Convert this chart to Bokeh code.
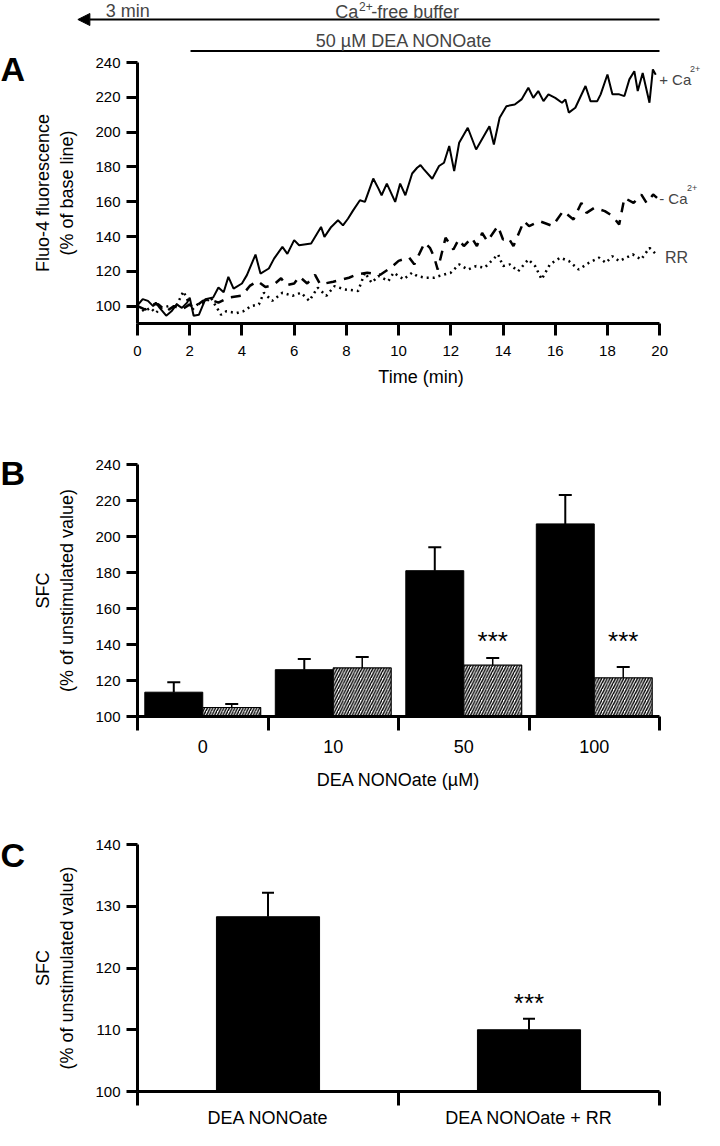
import numpy as np
from bokeh.plotting import figure
from bokeh.models import (Range1d, FixedTicker, Label, Arrow, NormalHead, TeeHead,
                          Whisker, ColumnDataSource)
from bokeh.layouts import column, row
from bokeh.embed import file_html
from bokeh.resources import INLINE
from bokeh.core.properties import value

# ---------------- Panel A data (time in min, % of base line) ----------------
t_plus = [0.0, 0.2, 0.4, 0.6, 0.7, 0.85, 1.1, 1.3, 1.5, 1.7, 1.9, 2.0, 2.15, 2.35, 2.6, 2.9,
          3.1, 3.3, 3.48, 3.68, 4.0, 4.19, 4.52, 4.71, 5.03, 5.23, 5.55, 5.74, 6.0, 6.19,
          6.65, 7.03, 7.16, 7.42, 7.68, 7.87, 8.06, 8.26, 8.52, 8.71, 9.03, 9.23, 9.35,
          9.55, 9.87, 10.06, 10.26, 10.52, 10.71, 10.84, 10.97, 11.29, 11.55, 11.74, 11.94,
          12.13, 12.32, 12.65, 12.97, 13.48, 13.65, 13.87, 14.13, 14.45, 14.71, 14.97,
          15.16, 15.35, 15.55, 15.74, 16.0, 16.26, 16.39, 16.52, 16.77, 17.16, 17.35,
          17.61, 17.74, 18.0, 18.19, 18.45, 18.65, 18.84, 19.03, 19.16, 19.35, 19.61,
          19.74, 19.85]
v_plus = [100.5, 104, 103, 100, 102, 99, 94.5, 97, 101, 99, 102, 104.8, 94.5, 95, 104, 105,
          110.7, 108, 116.8, 110, 113, 117.8, 129.6, 118.7, 121.6, 127.3, 134, 130, 137.9,
          135, 136, 145.5, 139.8, 145.5, 149.3, 146.4, 150.2, 155, 160.8, 159.9, 173.3,
          167.5, 163.7, 170.4, 159.9, 170.4, 163.7, 176.2, 179.5, 181, 178.6, 173.2, 180.5,
          182.4, 192, 177.6, 193.9, 202.5, 190, 203.4, 192.9, 208.2, 214.9, 215.9, 218.8,
          225.5, 219.7, 223.6, 217.8, 221.7, 219.7, 216.9, 218.8, 211.2, 214, 226.5, 217.8,
          217.8, 221.7, 233.1, 221.7, 221.7, 220.7, 230.3, 235, 223.6, 234, 216.9, 236, 233]

t_minus = [0.0, 0.3, 0.6, 0.8, 1.1, 1.4, 1.7, 2.0, 2.15, 2.5, 2.75, 3.1, 3.5, 4.0, 4.3, 4.6,
           4.9, 5.2, 5.5, 5.7, 6.0, 6.2, 6.5, 6.8, 7.0, 7.5, 8.1, 8.4, 8.8, 9.3, 9.7, 10.0,
           10.4, 10.6, 11.0, 11.2, 11.35, 11.5, 11.8, 12.1, 12.3, 12.5, 12.8, 13.0, 13.2,
           13.4, 13.8, 14.0, 14.2, 14.4, 14.8, 15.0, 15.4, 15.9, 16.3, 16.7, 17.0, 17.2,
           17.5, 17.9, 18.2, 18.45, 18.65, 19.0, 19.3, 19.5, 19.75, 19.9]
v_minus = [100, 98, 101, 101, 97, 100, 98, 101, 99, 103, 104, 102, 105, 106, 111.6, 114.4,
           111, 112, 116, 112, 113, 117, 113, 118, 112.5, 114, 116.3, 118.2, 119.2, 118, 122,
           126, 128, 124, 136.4, 133.5, 128.7, 121, 139.3, 132.5, 138.3, 134.5, 139.3, 134.5,
           142, 137.3, 146, 138.3, 139.3, 134.5, 148.8, 146, 148.8, 146, 154.6, 149.8, 159.3,
           153.6, 156.5, 154.6, 151.7, 146.9, 162.2, 159.3, 164.1, 159.3, 164.1, 162.2]

t_rr = [0.0, 0.26, 0.5, 0.7, 0.9, 1.2, 1.45, 1.76, 1.9, 2.1, 2.3, 2.6, 2.8, 3.0, 3.2, 3.4,
        3.8, 4.05, 4.35, 4.65, 4.84, 5.16, 5.55, 5.94, 6.26, 6.58, 6.9, 7.23, 7.55, 7.94,
        8.45, 8.71, 8.97, 9.23, 9.61, 9.81, 10.19, 10.52, 10.71, 11.03, 11.35, 11.55, 12.0,
        12.32, 12.65, 12.97, 13.29, 13.81, 14.0, 14.26, 14.58, 14.97, 15.23, 15.48, 15.8,
        16.19, 16.52, 16.9, 17.29, 17.68, 17.94, 18.19, 18.45, 18.97, 19.29, 19.61, 19.87]
v_rr = [100, 97, 99, 96, 99, 100, 99, 108.5, 104, 98, 101, 102, 105, 100, 95, 97, 96, 97,
        100, 101, 107.7, 103, 107.7, 105.9, 107.7, 103, 110.6, 105.9, 111.5, 109.6, 108.7,
        119.2, 113.4, 117.3, 114.4, 119.2, 115.4, 119.2, 117.3, 116.3, 116.3, 117.3, 119.2,
        124, 121, 123, 122, 129.7, 123, 124, 120, 126.8, 123, 115.4, 124, 127.8, 125.9, 121,
        124.9, 127.8, 124.9, 128.7, 125.9, 129.7, 126.8, 133.5, 129.7]

a_ticks_x = [0, 2, 4, 6, 8, 10, 12, 14, 16, 18, 20]
a_ticks_y = [100, 120, 140, 160, 180, 200, 220, 240]

# ---------------- Panel B data ----------------
b_doses = ["0", "10", "50", "100"]
b_ctrl = [113.5, 126.0, 181.0, 207.0]
b_ctrl_err = [5.5, 6.0, 13.0, 16.0]
b_rr = [105.0, 127.0, 128.5, 121.5]
b_rr_err = [2.0, 6.0, 4.0, 6.0]
b_sig = ["", "", "***", "***"]
b_ticks_y = [100, 120, 140, 160, 180, 200, 220, 240]

# ---------------- Panel C data ----------------
c_groups = ["DEA NONOate", "DEA NONOate + RR"]
c_vals = [128.3, 110.0]
c_err = [3.9, 1.8]
c_sig = ["", "***"]
c_ticks_y = [100, 110, 120, 130, 140]

# ---------------- styling / layout ----------------
FONT = "Liberation Sans"
LW = 30                               # width of the panel-letter strip
W = 704 - LW                          # width of each panel
LB, RB = 105, 45                      # frame spans page x 143..667
PXM = (W - LB - RB) / 20.0            # px per minute in panel A
TOP_H = 52


def base_fig(height, x_range, y_range, **kw):
    p = figure(width=kw.pop("width", W), height=height, x_range=x_range, y_range=y_range,
               toolbar_location=None, output_backend="svg", **kw)
    p.frame_align = False
    p.grid.visible = False
    p.outline_line_color = None
    p.background_fill_color = "white"
    p.border_fill_color = "white"
    return p


def style_axes(p, xlabel, ylabel):
    for ax in p.axis:
        ax.axis_line_width = 3
        ax.axis_line_color = "black"
        ax.major_tick_line_width = 3
        ax.major_tick_line_color = "black"
        ax.minor_tick_line_color = None
        ax.major_tick_in = 0
        ax.major_label_text_font = FONT
        ax.major_label_text_font_size = "15px"
        ax.major_label_text_color = "black"
        ax.axis_label_text_font = FONT
        ax.axis_label_text_font_size = "18px"
        ax.axis_label_text_font_style = "normal"
        ax.axis_label_text_color = "black"
    p.xaxis.axis_label = xlabel
    p.yaxis.axis_label = ylabel
    p.yaxis.major_tick_out = 11
    p.yaxis.major_label_standoff = 6
    p.yaxis.axis_label_standoff = 15


def lab(p, x, y, text, size="18px", align="left", **kw):
    p.add_layout(Label(x=x, y=y, text=text, text_font=FONT, text_font_size=size,
                       text_align=align, text_baseline="middle", **kw))


def bottom_cat_axis(p, centers, names, standoff):
    p.xaxis.ticker = FixedTicker(ticks=list(centers), minor_ticks=list(range(len(names) + 1)))
    p.xaxis.major_label_overrides = {float(g): d for g, d in zip(centers, names)}
    p.xaxis.major_label_text_font_size = "18px"
    p.xaxis.major_tick_out = 0
    p.xaxis.major_tick_line_color = None
    p.xaxis.minor_tick_line_color = "black"
    p.xaxis.minor_tick_line_width = 3
    p.xaxis.minor_tick_out = 14
    p.xaxis.minor_tick_in = 0
    p.xaxis.major_label_standoff = standoff


# ---- panel letters strip (page pixel rows) ----
letters = base_fig(1130, Range1d(0, LW), Range1d(1130, 0), width=LW, min_border=0,
                   x_axis_location=None, y_axis_location=None)
letters.text(x=[0, 0, 0], y=[68, 472, 854], text=["A", "B", "C"], text_font=value(FONT),
             text_font_size="34px", text_font_style="bold", text_baseline="middle",
             text_align="left")

# ---- top annotation strip (x in minutes, y in px from strip top) ----
top = base_fig(TOP_H, Range1d(-LB / PXM, (W - LB) / PXM), Range1d(TOP_H, 0), min_border=0,
               x_axis_location=None, y_axis_location=None)
top.add_layout(Arrow(end=NormalHead(size=12, fill_color="black", line_color="black"),
                     x_start=20, y_start=19, x_end=-2.2, y_end=19, line_width=2))
lab(top, -0.3, 10, "3 min", align="center")
lab(top, 8.5, 11, "Ca", align="right")
lab(top, 8.53, 6, "2+", size="12px")
lab(top, 8.5 + 13 / PXM, 11, "-free buffer")
lab(top, 10.25, 40, "50 \u00b5M DEA NONOate", align="center")
top.segment(x0=[2.1], y0=[TOP_H - 1.5], x1=[20], y1=[TOP_H - 1.5], line_width=2,
            line_color="black")

# ---- Panel A ----
pa = base_fig(340, Range1d(0, (W - LB) / PXM), Range1d(90, 240),
              min_border_left=LB, min_border_right=0, min_border_top=10, min_border_bottom=69)
pa.line(t_plus, v_plus, line_color="black", line_width=2)
pa.line(t_minus, v_minus, line_color="black", line_width=2.5, line_dash="10 8")
pa.line(t_rr, v_rr, line_color="black", line_width=2.5, line_dash="2 4")
style_axes(pa, "Time (min)", "Fluo-4 fluorescence\n(% of base line)")
pa.xaxis.bounds = (0, 20)
pa.xaxis.ticker = FixedTicker(ticks=a_ticks_x)
pa.yaxis.ticker = FixedTicker(ticks=a_ticks_y)
pa.xaxis.major_tick_out = 12
pa.xaxis.major_label_standoff = 10
pa.xaxis.axis_label_standoff = 8
lab(pa, 19.98, 230.5, "+ Ca", size="15px")
lab(pa, 19.98 + 31 / PXM, 236.5, "2+", size="9px")
lab(pa, 19.98, 162, "- Ca", size="15px")
lab(pa, 19.98 + 28 / PXM, 168, "2+", size="9px")
lab(pa, 20.2, 128, "RR", size="16px")

# ---- Panel B ----
grp = np.arange(len(b_doses)) + 0.5
bw = 0.444
src_b = ColumnDataSource(dict(
    xc=grp - 0.222, xr=grp + 0.222,
    ctrl=b_ctrl, ctrl_up=[v + e for v, e in zip(b_ctrl, b_ctrl_err)],
    rr=b_rr, rr_up=[v + e for v, e in zip(b_rr, b_rr_err)],
    rr_lo=[v - e for v, e in zip(b_rr, b_rr_err)], sig=b_sig,
    sig_y=[142] * len(b_doses)))
pb = base_fig(400, Range1d(0, len(b_doses)), Range1d(100, 240),
              min_border_left=LB, min_border_right=RB, min_border_top=72, min_border_bottom=66)
pb.vbar(x="xc", top="ctrl", bottom=100, width=bw, source=src_b, fill_color="black",
        line_color="black")
pb.vbar(x="xr", top="rr", bottom=100, width=bw, source=src_b, fill_color="white",
        line_color="black", line_width=1.2, hatch_pattern="/", hatch_color="black",
        hatch_scale=5.5, hatch_weight=1.4)
pb.add_layout(Whisker(base="xc", upper="ctrl_up", lower="ctrl", source=src_b,
                      line_width=2, line_color="black",
                      upper_head=TeeHead(size=13, line_width=2, line_color="black"),
                      lower_head=None))
pb.add_layout(Whisker(base="xr", upper="rr_up", lower="rr_lo", source=src_b,
                      line_width=1.5, line_color="black",
                      upper_head=TeeHead(size=13, line_width=2, line_color="black"),
                      lower_head=TeeHead(size=8, line_width=1.5, line_color="black")))
pb.text(x="xr", y="sig_y", text="sig", source=src_b, text_font=value(FONT),
        text_font_size="26px", text_align="center", text_baseline="middle")
style_axes(pb, "DEA NONOate (\u00b5M)", "SFC\n(% of unstimulated value)")
pb.yaxis.ticker = FixedTicker(ticks=b_ticks_y)
bottom_cat_axis(pb, grp, b_doses, 9)
pb.xaxis.axis_label_standoff = 14

# ---- Panel C ----
gc = np.arange(len(c_groups)) + 0.5
src_c = ColumnDataSource(dict(x=gc, v=c_vals, up=[v + e for v, e in zip(c_vals, c_err)],
                              sig=c_sig, sig_y=[114.3] * len(c_groups)))
pc = base_fig(338, Range1d(0, len(c_groups)), Range1d(100, 140),
              min_border_left=LB, min_border_right=RB, min_border_top=52, min_border_bottom=24)
pc.vbar(x="x", top="v", bottom=100, width=0.395, source=src_c, fill_color="black",
        line_color="black")
pc.add_layout(Whisker(base="x", upper="up", lower="v", source=src_c, line_width=2,
                      line_color="black",
                      upper_head=TeeHead(size=12, line_width=2, line_color="black"),
                      lower_head=None))
pc.text(x="x", y="sig_y", text="sig", source=src_c, text_font=value(FONT),
        text_font_size="26px", text_align="center", text_baseline="middle")
style_axes(pc, None, "SFC\n(% of unstimulated value)")
pc.yaxis.ticker = FixedTicker(ticks=c_ticks_y)
bottom_cat_axis(pc, gc, c_groups, 2)

layout = row(letters, column(top, pa, pb, pc, spacing=0), spacing=0)
open("out.html", "w").write(file_html(layout, INLINE))
